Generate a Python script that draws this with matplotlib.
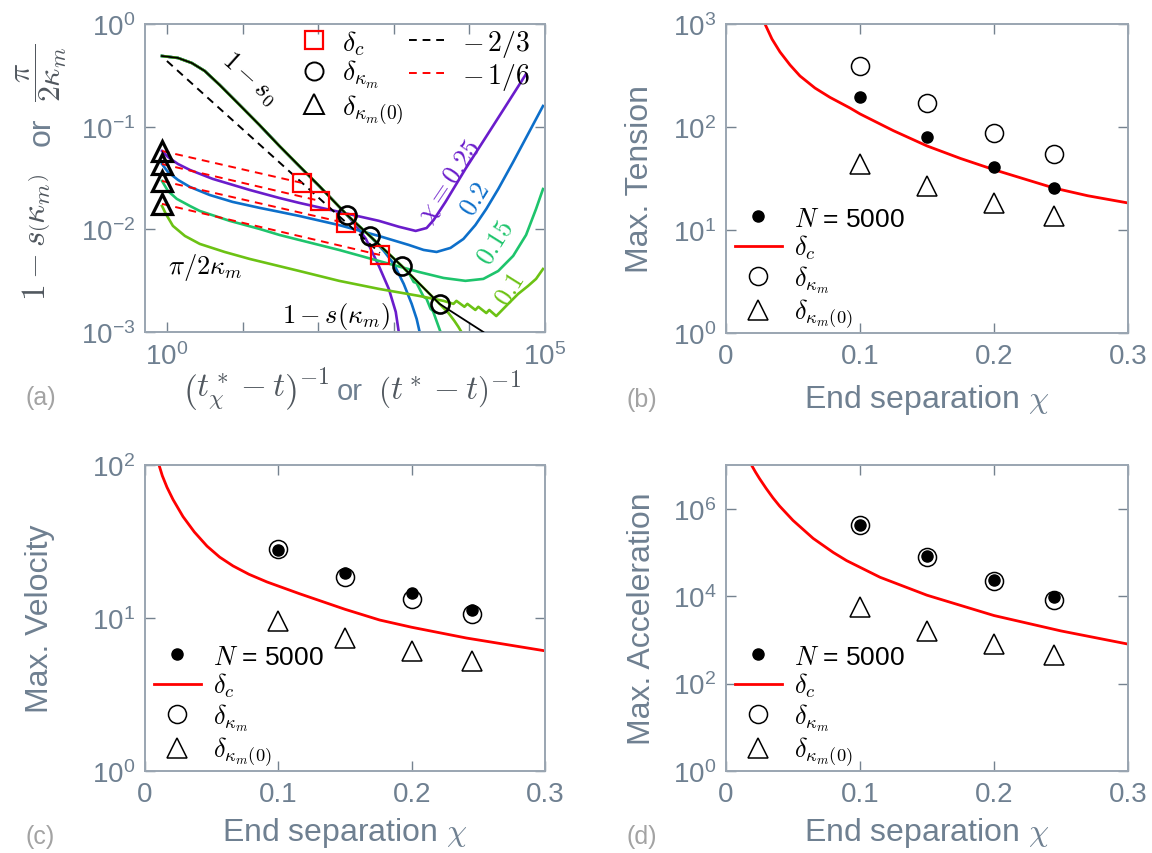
import numpy as np
import matplotlib
matplotlib.use('Agg')
import matplotlib.pyplot as plt
from matplotlib.lines import Line2D
from matplotlib.ticker import FixedLocator, FixedFormatter, NullLocator

plt.rcParams['font.family'] = ['Liberation Sans', 'DejaVu Sans']
plt.rcParams['mathtext.fontset'] = 'cm'

# ---------------- panel (a) data ----------------
s0_x = [0.86, 1.40, 2.13, 3.16, 4.98, 9.13, 16.7, 30.7, 56.2, 103, 241, 483, 1274, 4030, 15300]
s0_y = [0.488, 0.467, 0.417, 0.349, 0.255, 0.163, 0.104, 0.0649, 0.0414, 0.0265, 0.0138,
        0.00862, 0.0044, 0.00188, 0.001]

circ_a_x = [241, 483, 1274, 4030]
circ_a_y = [0.0138, 0.00862, 0.0044, 0.00188]
sq_a_x = [61.5, 106, 234, 655]
sq_a_y = [0.0283, 0.0189, 0.0115, 0.00563]
tri_a_x = [0.86, 0.86, 0.86, 0.86]
tri_a_y = [0.058, 0.0433, 0.0296, 0.0177]
slope23_x = [1.0, 655]
slope23_y = [0.436, 0.00589]

chi_labels = ['0.25', '0.2', '0.15', '0.1']
chi_colors = ['#6a1ccb', '#0d6fca', '#1ec46c', '#6cc214']

pi025_x = [0.86, 1.03, 1.40, 2.01, 4.03, 12.4, 30.7, 56.2, 189, 635, 1164, 1948, 2718, 3360,
           4833, 8859, 16240, 29770, 56230]
pi025_y = [0.058, 0.0507, 0.0433, 0.0379, 0.031, 0.0242, 0.0202, 0.0181, 0.0148, 0.0121,
           0.0106, 0.00965, 0.0103, 0.0123, 0.0185, 0.0387, 0.0776, 0.156, 0.326]
pi020_x = [0.86, 1.03, 1.40, 2.01, 3.68, 7.39, 16.7, 30.7, 56.2, 189, 635, 1576, 2481, 3680,
           5623, 8340, 11990, 16740, 24080, 37920, 59760, 94120]
pi020_y = [0.0433, 0.0362, 0.0303, 0.0259, 0.0216, 0.0185, 0.0162, 0.0148, 0.0135, 0.0110,
           0.00862, 0.00705, 0.0063, 0.00602, 0.00659, 0.00806, 0.0110, 0.0158, 0.0247,
           0.0453, 0.0849, 0.159]
pi015_x = [0.86, 1.03, 1.35, 2.01, 2.72, 6.75, 16.7, 30.7, 56.2, 189, 635, 2133, 4550, 8859,
           15290, 24080, 37920, 56230, 76140, 94120]
pi015_y = [0.0296, 0.0237, 0.0198, 0.0169, 0.0151, 0.0121, 0.0101, 0.00882, 0.00788, 0.0063,
           0.00492, 0.00385, 0.00336, 0.00315, 0.00329, 0.00393, 0.00551, 0.00882, 0.0158, 0.0247]
pi010_x = [0.86, 0.97, 1.20, 1.73, 2.72, 5.80, 12.4, 56.2, 189, 635, 2133, 4550, 6158, 6743,
           8596, 9412, 11990, 13140, 16740, 18330, 22660, 32610, 44140, 59760, 76140, 94120]
pi010_y = [0.0169, 0.0141, 0.0108, 0.00862, 0.00721, 0.00602, 0.00515, 0.00393, 0.00315,
           0.00263, 0.00225, 0.00201, 0.00188, 0.00201, 0.00176, 0.00188, 0.00164, 0.00176,
           0.00153, 0.00164, 0.00143, 0.00188, 0.00235, 0.00281, 0.00329, 0.00411]

# departure index on the 1 - s0 curve and the diving part of 1 - s(kappa_m)
dive_start = [10, 11, 12, 13]
dive025_x = [326, 428, 635, 860, 1062, 1164]
dive025_y = [0.0106, 0.00806, 0.0044, 0.00263, 0.00157, 0.001]
dive020_x = [739, 1000, 1354, 1725, 2008, 2198]
dive020_y = [0.00616, 0.0046, 0.00294, 0.00188, 0.00134, 0.001]
dive015_x = [1600, 1833, 2000, 2481, 2700, 3069, 3300, 3680, 4153]
dive015_y = [0.0037, 0.00307, 0.00300, 0.0022, 0.00212, 0.00168, 0.00160, 0.00128, 0.001]
dive010_x = [5292, 6346, 7165, 7848]
dive010_y = [0.00153, 0.00128, 0.00112, 0.001]

# ---------------- panels (b)-(d) data ----------------
chi_pts = [0.1, 0.15, 0.2, 0.245]

tens_N = [196, 80, 41, 25.5]
tens_km = [390, 171, 87.6, 54.7]
tens_km0 = [44, 26.8, 18.3, 13.7]
tens_c_x = [0.0291, 0.0343, 0.0403, 0.0478, 0.0552, 0.0664, 0.0776, 0.0925, 0.1, 0.125, 0.15,
            0.175, 0.2, 0.245, 0.27, 0.3]
tens_c_y = [1000, 715, 535, 400, 313, 239, 194, 153, 134, 92, 65.5, 49.5, 38.5, 25.5, 21.5, 18.3]

vel_N = [28, 19.7, 14.6, 11.3]
vel_km = [28.3, 18.5, 13.3, 10.6]
vel_km0 = [9.6, 7.4, 6.1, 5.2]
vel_c_x = [0.0105, 0.013, 0.0165, 0.021, 0.0285, 0.037, 0.0465, 0.056, 0.066, 0.078, 0.0915,
           0.116, 0.15, 0.176, 0.2, 0.241, 0.3]
vel_c_y = [100, 85, 71.5, 59.5, 46, 36.5, 29.5, 25, 21.9, 19.3, 17.2, 14.4, 11.4, 9.7, 8.7,
           7.4, 6.1]

acc_N = [4.3e5, 8.5e4, 2.4e4, 9.5e3]
acc_km = [4.26e5, 8.0e4, 2.2e4, 8.0e3]
acc_km0 = [5.6e3, 1.6e3, 8.0e2, 4.5e2]
acc_c_x = [0.019, 0.022, 0.025, 0.03, 0.035, 0.04, 0.05, 0.065, 0.08, 0.09, 0.115, 0.15, 0.2,
           0.25, 0.3]
acc_c_y = [1e7, 6.9e6, 4.9e6, 2.9e6, 1.78e6, 1.15e6, 5.4e5, 2.1e5, 1.0e5, 6.5e4, 2.7e4,
           1.05e4, 3.6e3, 1.6e3, 800]

# ---------------- styling ----------------
TXT = '#6f8091'
MATHC = '#50575e'
SPINE = '#9aa5b1'


def style(ax):
    for sp in ax.spines.values():
        sp.set_color(SPINE)
        sp.set_linewidth(1.4)
    ax.tick_params(which='major', direction='in', top=True, right=True, length=7, width=1,
                   color='#75828f', labelcolor=TXT, labelsize=20, pad=7)
    ax.tick_params(which='minor', length=0)


def logfmt(exps):
    return [r'$\mathregular{10^{%d}}$' % e for e in exps]


fig = plt.figure(figsize=(11.52, 8.54), dpi=100)
W, H = 1152.0, 854.0


def axes_px(l, t, r, b):
    return fig.add_axes([l / W, 1 - b / H, (r - l) / W, (b - t) / H])


axa = axes_px(145, 25, 545, 333)
axb = axes_px(726, 25, 1128, 334)
axc = axes_px(145, 466, 545, 772)
axd = axes_px(726, 466, 1128, 772)

# ---------------- panel (a) ----------------
ax = axa
ax.set_xscale('log')
ax.set_yscale('log')
pis = [(pi025_x, pi025_y), (pi020_x, pi020_y), (pi015_x, pi015_y), (pi010_x, pi010_y)]
dives = [(dive025_x, dive025_y), (dive020_x, dive020_y), (dive015_x, dive015_y),
         (dive010_x, dive010_y)]
for (px, py), (dx, dy), k, c in zip(pis, dives, dive_start, chi_colors):
    ax.plot(px, py, color=c, lw=1.9, zorder=2)
    bx = list(s0_x[:k + 1]) + list(dx)
    by = list(s0_y[:k + 1]) + list(dy)
    ax.plot(bx, by, color=c, lw=1.9, zorder=2)
ax.plot(s0_x, s0_y, color='k', lw=1.3, zorder=3)
ax.plot(slope23_x, slope23_y, color='k', lw=1.4, ls=(0, (4, 3)), zorder=3)
for tx, ty, sx, sy in zip(tri_a_x, tri_a_y, sq_a_x, sq_a_y):
    ax.plot([tx, sx], [ty, sy], color='red', lw=1.4, ls=(0, (4, 3)), zorder=3)
ax.plot(sq_a_x, sq_a_y, ls='none', marker='s', ms=13, mfc='none', mec='red', mew=1.6, zorder=4)
ax.plot(circ_a_x, circ_a_y, ls='none', marker='o', ms=13, mfc='none', mec='k', mew=1.9, zorder=4)
ax.plot(tri_a_x, tri_a_y, ls='none', marker='^', ms=15, mfc='none', mec='k', mew=2.3, zorder=4)

ax.set_xlim(10 ** -0.29, 1e5)
ax.set_ylim(1e-3, 1)
ax.xaxis.set_major_locator(FixedLocator([1, 10, 100, 1e3, 1e4, 1e5]))
ax.xaxis.set_major_formatter(FixedFormatter([r'$\mathregular{10^{0}}$', '', '', '', '',
                                             r'$\mathregular{10^{5}}$']))
ax.yaxis.set_major_locator(FixedLocator([1e-3, 1e-2, 1e-1, 1]))
ax.yaxis.set_major_formatter(FixedFormatter(logfmt([-3, -2, -1, 0])))
ax.xaxis.set_minor_locator(NullLocator())
ax.yaxis.set_minor_locator(NullLocator())
style(ax)

ax.text(12.4, 0.305, r'$1-s_0$', fontsize=19, rotation=-42, ha='center', va='center')
ax.text(5620, 0.0296, r'$\chi=0.25$', fontsize=19, rotation=56, ha='center', va='center',
        color=chi_colors[0])
ax.text(11990, 0.0198, r'$0.2$', fontsize=19, rotation=58, ha='center', va='center',
        color=chi_colors[1])
ax.text(21980, 0.00753, r'$0.15$', fontsize=19, rotation=58, ha='center', va='center',
        color=chi_colors[2])
ax.text(34700, 0.00263, r'$0.1$', fontsize=19, rotation=58, ha='center', va='center',
        color=chi_colors[3])
ax.text(3.16, 0.0043, r'$\pi/2\kappa_m$', fontsize=19, ha='center', va='center')
ax.text(173, 0.00144, r'$1-s(\kappa_m)$', fontsize=19, ha='center', va='center')

h1 = [Line2D([], [], ls='none', marker='s', ms=13, mfc='none', mec='red', mew=1.6),
      Line2D([], [], ls='none', marker='o', ms=13, mfc='none', mec='k', mew=1.4),
      Line2D([], [], ls='none', marker='^', ms=14, mfc='none', mec='k', mew=1.4)]
leg1 = ax.legend(h1, [r'$\delta_c$', r'$\delta_{\kappa_m}$', r'$\delta_{\kappa_m(0)}$'],
                 loc='upper left', bbox_to_anchor=(0.37, 1.0), frameon=False, fontsize=20,
                 handlelength=1.2, handletextpad=0.4, labelspacing=0.05, borderpad=0.15,
                 borderaxespad=0)
ax.add_artist(leg1)
h2 = [Line2D([], [], color='k', lw=1.4, ls=(0, (4, 3))),
      Line2D([], [], color='red', lw=1.4, ls=(0, (4, 3)))]
ax.legend(h2, [r'$-\,2/3$', r'$-\,1/6$'], loc='upper left', bbox_to_anchor=(0.65, 1.0),
          frameon=False, fontsize=20, handlelength=1.4, handletextpad=0.5, labelspacing=0.05,
          borderpad=0.15, borderaxespad=0)

# y label of (a), in three pieces
ax.text(-0.27, 0.31, r'$1-s\left(\kappa_m\right)$', transform=ax.transAxes, rotation=90,
        fontsize=24, color=MATHC, ha='center', va='center', rotation_mode='anchor')
ax.text(-0.258, 0.655, 'or', transform=ax.transAxes, rotation=90, fontsize=23, color=TXT,
        ha='center', va='center', rotation_mode='anchor')
ax.text(-0.258, 0.845, r'$\dfrac{\pi}{2\kappa_m}$', transform=ax.transAxes, rotation=90,
        fontsize=23, color=MATHC, ha='center', va='center', rotation_mode='anchor')
# x label of (a), in three pieces
ax.text(0.4625, -0.185, r'$\left(t^*_\chi-t\right)^{-1}$', transform=ax.transAxes,
        fontsize=24, color=MATHC, ha='right', va='center')
ax.text(0.5125, -0.19, 'or', transform=ax.transAxes, fontsize=21, color=TXT,
        ha='center', va='center')
ax.text(0.5825, -0.185, r'$\left(t^*_{\,}-t\right)^{-1}$', transform=ax.transAxes,
        fontsize=24, color=MATHC, ha='left', va='center')


# ---------------- panels (b)-(d) ----------------
def lower_panel(ax, N, km, km0, cx, cy, ylim, yexps, ylabel, ylabx, xlaby):
    ax.set_yscale('log')
    ax.plot(cx, cy, color='red', lw=2, zorder=2)
    ax.plot(chi_pts, km, ls='none', marker='o', ms=13, mfc='none', mec='k', mew=1.1, zorder=3)
    ax.plot(chi_pts, N, ls='none', marker='o', ms=8, mfc='k', mec='k', zorder=4)
    ax.plot(chi_pts, km0, ls='none', marker='^', ms=15, mfc='none', mec='k', mew=1.1, zorder=3)
    ax.set_xlim(0, 0.3)
    ax.set_ylim(*ylim)
    ax.xaxis.set_major_locator(FixedLocator([0, 0.1, 0.2, 0.3]))
    ax.xaxis.set_major_formatter(FixedFormatter(['0', '0.1', '0.2', '0.3']))
    ax.yaxis.set_major_locator(FixedLocator([10.0 ** e for e in yexps]))
    ax.yaxis.set_major_formatter(FixedFormatter(logfmt(yexps)))
    ax.yaxis.set_minor_locator(NullLocator())
    style(ax)
    ax.set_ylabel(ylabel, fontsize=23, color=TXT, va='center')
    ax.yaxis.set_label_coords(ylabx, 0.5)
    ax.set_xlabel(r'End separation $\chi$', fontsize=23, color=TXT, va='center')
    ax.xaxis.set_label_coords(0.5, xlaby)
    hh = [Line2D([], [], ls='none', marker='o', ms=8, mfc='k', mec='k'),
          Line2D([], [], color='red', lw=2),
          Line2D([], [], ls='none', marker='o', ms=13, mfc='none', mec='k', mew=1.1),
          Line2D([], [], ls='none', marker='^', ms=15, mfc='none', mec='k', mew=1.1)]
    ax.legend(hh, [r'$N$ = 5000', r'$\delta_c$', r'$\delta_{\kappa_m}$', r'$\delta_{\kappa_m(0)}$'],
              loc='lower left', bbox_to_anchor=(0.015, 0.0), frameon=False, fontsize=19,
              handlelength=1.8, handletextpad=0.45, labelspacing=0.08, borderpad=0.1,
              borderaxespad=0)


lower_panel(axb, tens_N, tens_km, tens_km0, tens_c_x, tens_c_y, (1, 1e3), [0, 1, 2, 3],
            'Max. Tension', -0.214, -0.213)
lower_panel(axc, vel_N, vel_km, vel_km0, vel_c_x, vel_c_y, (1, 1e2), [0, 1, 2],
            'Max. Velocity', -0.262, -0.2)
lower_panel(axd, acc_N, acc_km, acc_km0, acc_c_x, acc_c_y, (1, 1e7), [0, 2, 4, 6],
            'Max. Acceleration', -0.209, -0.2)

for lab, x, y in [('(a)', 41, 398), ('(b)', 642, 400), ('(c)', 40, 837), ('(d)', 642, 837)]:
    fig.text(x / W, 1 - y / H, lab, fontsize=18, color='#a3a3a3', ha='center', va='center')

fig.savefig('out.png', dpi=100)
